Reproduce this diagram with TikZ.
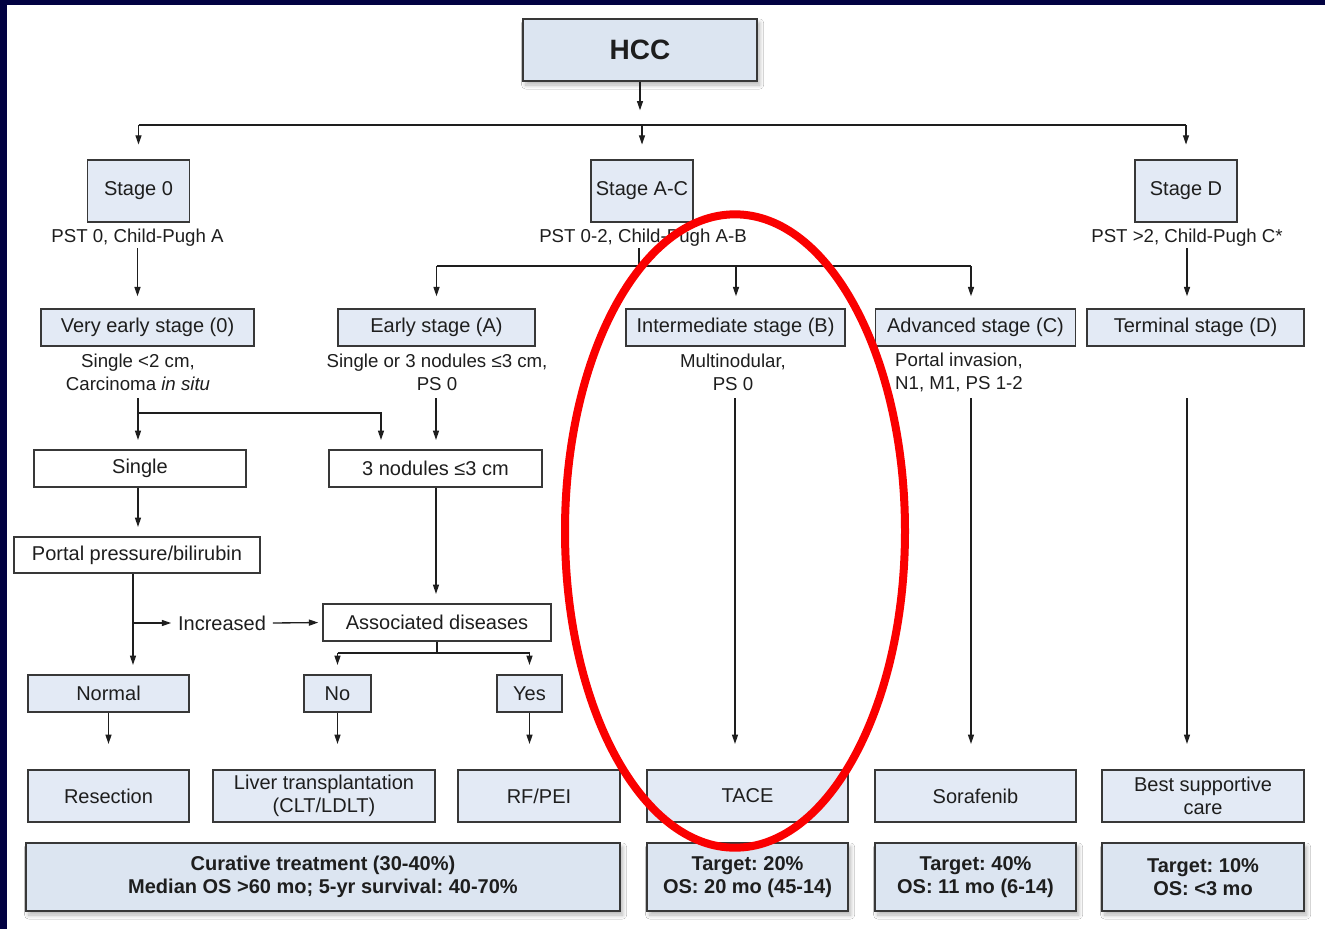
\documentclass[tikz,border=0pt]{standalone}
\usepackage{fontspec}
\setmainfont{Liberation Sans}
\usetikzlibrary{arrows.meta,shadows.blur,calc}
\definecolor{navyframe}{RGB}{2,2,66}
\definecolor{boxfill}{HTML}{E3EAF5}
\definecolor{darkfill}{HTML}{DCE5F1}
\definecolor{edgegrey}{HTML}{383838}
\definecolor{ink}{HTML}{1E1E1E}
\definecolor{markred}{RGB}{250,0,0}
\frenchspacing

\begin{document}
\begin{tikzpicture}[x=0.75pt,y=-0.75pt,
  wh/.style 2 args={minimum width=#1*0.75pt, minimum height=#2*0.75pt},
  box/.style={draw=edgegrey, line width=1.1pt, inner sep=0pt, align=center,
              text=ink, font={\fontsize{15pt}{17.5pt}\selectfont}},
  bluebox/.style={box, fill=boxfill},
  whitebox/.style={box, fill=white},
  shadowed/.style={blur shadow={shadow xshift=2pt, shadow yshift=-3pt,
              shadow blur radius=3pt, shadow blur steps=16, shadow opacity=30}},
  resultbox/.style={bluebox, fill=darkfill, shadowed,
              font={\bfseries\fontsize{15pt}{17.25pt}\selectfont}},
  lbl/.style={inner sep=1pt, align=center, text=ink,
              font={\fontsize{14pt}{17.25pt}\selectfont}},
  conn/.style={line width=1pt, draw=ink},
  arr/.style={conn, -{Triangle[length=7pt,width=4.5pt]}},
]
\useasboundingbox (0,0) rectangle (1325,929);
\fill[white] (0,0) rectangle (1325,929);
\fill[navyframe] (0,0) rectangle (1325,5);
\fill[navyframe] (0,0) rectangle (7,929);

% top
\node[bluebox, fill=darkfill, shadowed, wh={234}{62},
      font={\bfseries\fontsize{21pt}{24pt}\selectfont}] (hcc) at (640,50) {HCC};

% stages
\node[bluebox, wh={102}{62}] (s0)  at (138.5,191) {Stage 0};
\node[bluebox, wh={102}{62}] (sac) at (642,191)   {Stage A-C};
\node[bluebox, wh={102}{62}] (sd)  at (1186,191)  {Stage D};
\node[lbl] (t0)  at (137.5,238) {PST 0, Child-Pugh A};
\node[lbl] (tac) at (643,238)   {PST 0-2, Child-Pugh A-B};
\node[lbl] (td)  at (1187,238)  {PST >2, Child-Pugh C*};

% stage classes
\node[bluebox, wh={213}{37}] (ve) at (147.5,327.5) {Very early stage (0)};
\node[bluebox, wh={197}{37}] (ea) at (436.5,327.5) {Early stage (A)};
\node[bluebox, wh={219}{37}] (ib) at (735.5,327.5) {Intermediate stage (B)};
\node[bluebox, wh={200}{37}] (ac) at (975.5,327.5) {Advanced stage (C)};
\node[bluebox, wh={217}{37}] (tm) at (1195.5,327.5) {Terminal stage (D)};

\node[lbl] (d0) at (138,372.5) {Single <2 cm,\\Carcinoma \textit{in situ}};
\node[lbl] (dA) at (437,372.5) {Single or 3 nodules ≤3 cm,\\PS 0};
\node[lbl] (dB) at (733,372.5) {Multinodular,\\PS 0};
\node[lbl] (dC) at (959,372.5) {Portal invasion,\\N1, M1, PS 1-2};

% decision part
\node[whitebox, wh={212}{37}] (single) at (140,468.5) {Single};
\node[whitebox, wh={213}{37}] (nod)    at (435.5,468.5) {3 nodules ≤3 cm};
\node[whitebox, wh={246}{36}] (portal) at (137,555) {Portal pressure/bilirubin};
\node[whitebox, wh={228}{37}] (assoc)  at (437,622.5) {Associated diseases};
\node[inner sep=0pt, inner xsep=5pt, text=ink,
      font={\fontsize{15pt}{17.5pt}\selectfont}] (inc) at (222,623) {Increased};
\node[bluebox, wh={161}{37}] (normal) at (108.5,693.5) {Normal};
\node[bluebox, wh={67}{37}]  (no)     at (337.5,693.5) {No};
\node[bluebox, wh={65}{37}]  (yes)    at (529.5,693.5) {Yes};

% treatments
\node[bluebox, wh={161}{52}] (resec) at (108.5,796) {Resection};
\node[bluebox, wh={222}{52}] (liver) at (324,796) {Liver transplantation\\(CLT/LDLT)};
\node[bluebox, wh={162}{52}] (rf)    at (539,796) {RF/PEI};
\node[bluebox, wh={201}{52}] (tace)  at (747.5,796) {TACE};
\node[bluebox, wh={201}{52}] (sora)  at (975.5,796) {Sorafenib};
\node[bluebox, wh={202}{52}] (bsc)   at (1203,796) {Best supportive\\care};

% outcomes
\node[resultbox, wh={594}{68}] (cur) at (323,877) {Curative treatment (30-40\%)\\Median OS >60 mo; 5-yr survival: 40-70\%};
\node[resultbox, wh={201}{68}] (oB)  at (747.5,877) {Target: 20\%\\OS: 20 mo (45-14)};
\node[resultbox, wh={201}{68}] (oC)  at (975.5,877) {Target: 40\%\\OS: 11 mo (6-14)};
\node[resultbox, wh={202}{68}] (oD)  at (1203,877) {Target: 10\%\\OS: <3 mo};

% branch points
\coordinate (bus) at (641,125);
\coordinate (busA) at (639,266);
\coordinate (kB) at (736,266);
\coordinate (kC) at (971,266);
\coordinate (p0) at (138,398);
\coordinate (pA) at (436,398);
\coordinate (pB) at (735,398);
\coordinate (pC) at (971,398);
\coordinate (pD) at (1187,398);
\coordinate (q0) at (138,413);
\coordinate (q1) at (381,413);
\coordinate (r0) at (133,623);
\coordinate (s1) at (437,653);

% connectors
\draw[arr, shorten >=11pt] (hcc.south) -- (hcc.south |- bus);
\draw[conn] (bus -| s0) -- (bus -| sd);
\foreach \n in {s0,sac,sd}
  \draw[arr, shorten >=11pt] (bus -| \n) -- (\n.north);

\draw[arr, shorten >=9pt] (t0.south) -- (t0.south |- ve.north);
\draw[conn] (tac.south -| busA) -- (busA);
\draw[conn] (busA -| ea) -- (kC);
\draw[arr, shorten >=9pt] (busA -| ea) -- (ea.north);
\draw[arr, shorten >=9pt] (kB) -- (kB |- ib.north);
\draw[arr, shorten >=9pt] (kC) -- (kC |- ac.north);
\draw[arr, shorten >=9pt] (td.south) -- (td.south |- tm.north);

\draw[arr, shorten >=7pt] (p0) -- (p0 |- single.north);
\draw[arr, shorten >=7pt] (q0) -- (q1) -- (q1 |- nod.north);
\draw[arr, shorten >=7pt] (pA) -- (pA |- nod.north);
\draw[arr, shorten >=7pt] (single.south -| p0) -- (p0 |- portal.north);
\draw[arr, shorten >=7pt] (nod.south -| pA) -- (pA |- assoc.north);
\draw[arr, shorten >=7pt] (portal.south -| r0) -- (r0 |- normal.north);
\draw[arr] (r0) -- (inc.west);
\draw[arr, shorten >=3pt] (inc.east) -- (assoc.west);
\draw[conn] (assoc.south) -- (s1);
\draw[conn] (s1 -| no) -- (s1 -| yes);
\draw[arr, shorten >=7pt] (s1 -| no) -- (no.north);
\draw[arr, shorten >=7pt] (s1 -| yes) -- (yes.north);

\draw[arr, shorten >=19pt] (normal.south) -- (normal.south |- resec.north);
\draw[arr, shorten >=19pt] (no.south) -- (no.south |- liver.north);
\draw[arr, shorten >=19pt] (yes.south) -- (yes.south |- rf.north);
\draw[arr, shorten >=19pt] (pB) -- (pB |- tace.north);
\draw[arr, shorten >=19pt] (pC) -- (pC |- sora.north);
\draw[arr, shorten >=19pt] (pD) -- (pD |- bsc.north);

% highlight ring
\draw[markred, line width=6pt] (735,531) ellipse [x radius=127.5pt, y radius=237.5pt];
\end{tikzpicture}
\end{document}
